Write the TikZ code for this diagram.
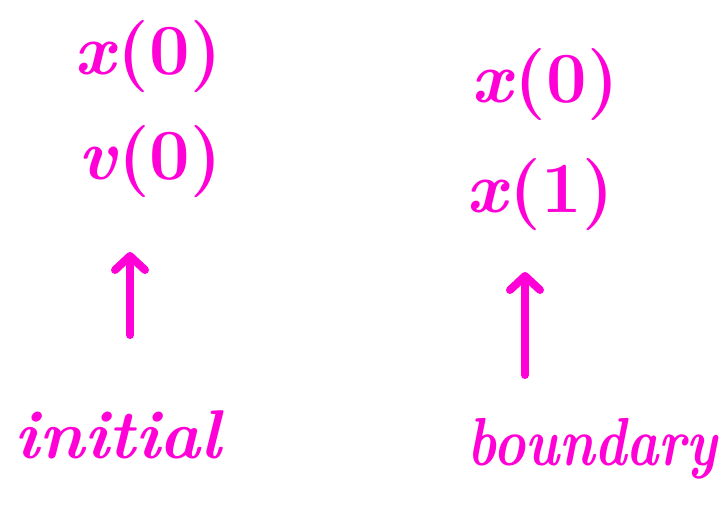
\documentclass[tikz,border=0pt]{standalone}
\usepackage{tikz}
\usetikzlibrary{arrows.meta}
\definecolor{InkPink}{RGB}{255,0,214}
\newcommand{\ivar}[1]{\textit{#1}}

\begin{document}
\begin{tikzpicture}[x=1pt,y=-1pt,>={Straight Barb[length=14pt,width=30pt,round]}]
      \useasboundingbox (0,0) rectangle (724,525);
      \tikzset{ink/.style={InkPink,inner sep=0pt,font=\fontsize{72}{72}\selectfont\bfseries},
        word/.style={ink,anchor=base,font=\fontsize{69}{69}\selectfont\bfseries\itshape},
        push/.style={->,InkPink,line width=8pt,line cap=round}}
      % initial values
      \node[ink] (xzeroa) at (148,57) {\ivar{x}(0)};
      \node[ink] (vzero) at (150,162) {\ivar{v}(0)};
      \node[word] (init) at (118,458) {initial};
      \coordinate (ia) at (130,335);
      \coordinate (ib) at (130,252);
      \draw[push] (ia) -- (ib);
      % boundary values
      \node[ink] (xzerob) at (545,85) {\ivar{x}(0)};
      \node[ink] (xone) at (540,195) {\ivar{x}(1)};
      \node[word,font=\fontsize{68}{68}\selectfont\bfseries\itshape,xscale=0.8] (bound) at (592,465) {boundary};
      \coordinate (ba) at (525,375);
      \coordinate (bb) at (525,272);
      \draw[push] (ba) -- (bb);
    \end{tikzpicture}
\end{document}
